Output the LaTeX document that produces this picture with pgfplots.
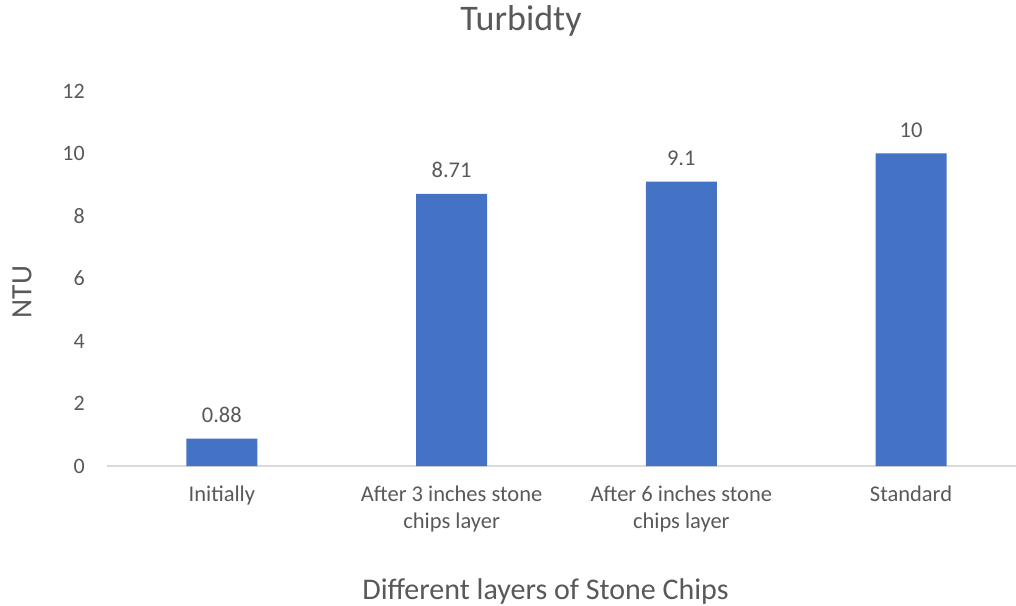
\documentclass[border=0pt]{standalone}
\usepackage{pgfplots}
\pgfplotsset{compat=1.18}
\usepackage{fontspec}
\setmainfont{Carlito}
\definecolor{barblue}{HTML}{4472C4}
\definecolor{txt}{HTML}{595959}
\definecolor{axgray}{HTML}{D9D9D9}
\begin{document}
\begin{tikzpicture}[x=1pt,y=1pt]
\path[use as bounding box] (0,0) rectangle (1016,605);
\begin{axis}[
  at={(107pt,139pt)}, anchor=south west,
  scale only axis, width=909pt, height=375pt,
  xmin=-0.5, xmax=3.457, ymin=0, ymax=12,
  ybar, bar width=71pt,
  axis x line*=bottom, axis y line*=left,
  x axis line style={draw=axgray, line width=1.3pt, -},
  y axis line style={draw=none},
  major tick length=0pt,
  xtick={0,1,2,3},
  xticklabels={Initially, After 3 inches stone\\chips layer, After 6 inches stone\\chips layer, Standard},
  xticklabel style={align=center, font=\fontsize{22.5}{27}\selectfont, text=txt, anchor=north, yshift=-16.7pt},
  ytick={0,2,4,6,8,10,12},
  yticklabel style={font=\fontsize{22}{24}\selectfont, text=txt, anchor=east, xshift=-18.7pt},
  /pgf/number format/assume math mode=true,
  nodes near coords,
  nodes near coords style={font=\fontsize{22.5}{24}\selectfont, text=txt, anchor=base, yshift=16pt, inner sep=0pt},
  point meta=explicit symbolic,
  title={Turbidty},
  title style={font=\fontsize{36}{40}\selectfont, text=txt, at={(axis description cs:0.5,1)}, anchor=base, yshift=54pt, xshift=-40.5pt},
  xlabel={Different layers of Stone Chips},
  xlabel style={font=\fontsize{30}{34}\selectfont, text=txt, at={(axis description cs:0.5,0)}, anchor=base, yshift=-133pt, xshift=-16pt},
  ylabel={NTU},
  ylabel style={font=\fontsize{29.5}{32}\selectfont, text=txt, at={(axis description cs:0,0.464)}, anchor=center, yshift=85pt},
  clip=false,
]
\addplot[fill=barblue, draw=none] coordinates {(0,0.88)[0.88] (1,8.71)[8.71] (2,9.1)[9.1] (3,10)[10]};
\end{axis}
\end{tikzpicture}
\end{document}
